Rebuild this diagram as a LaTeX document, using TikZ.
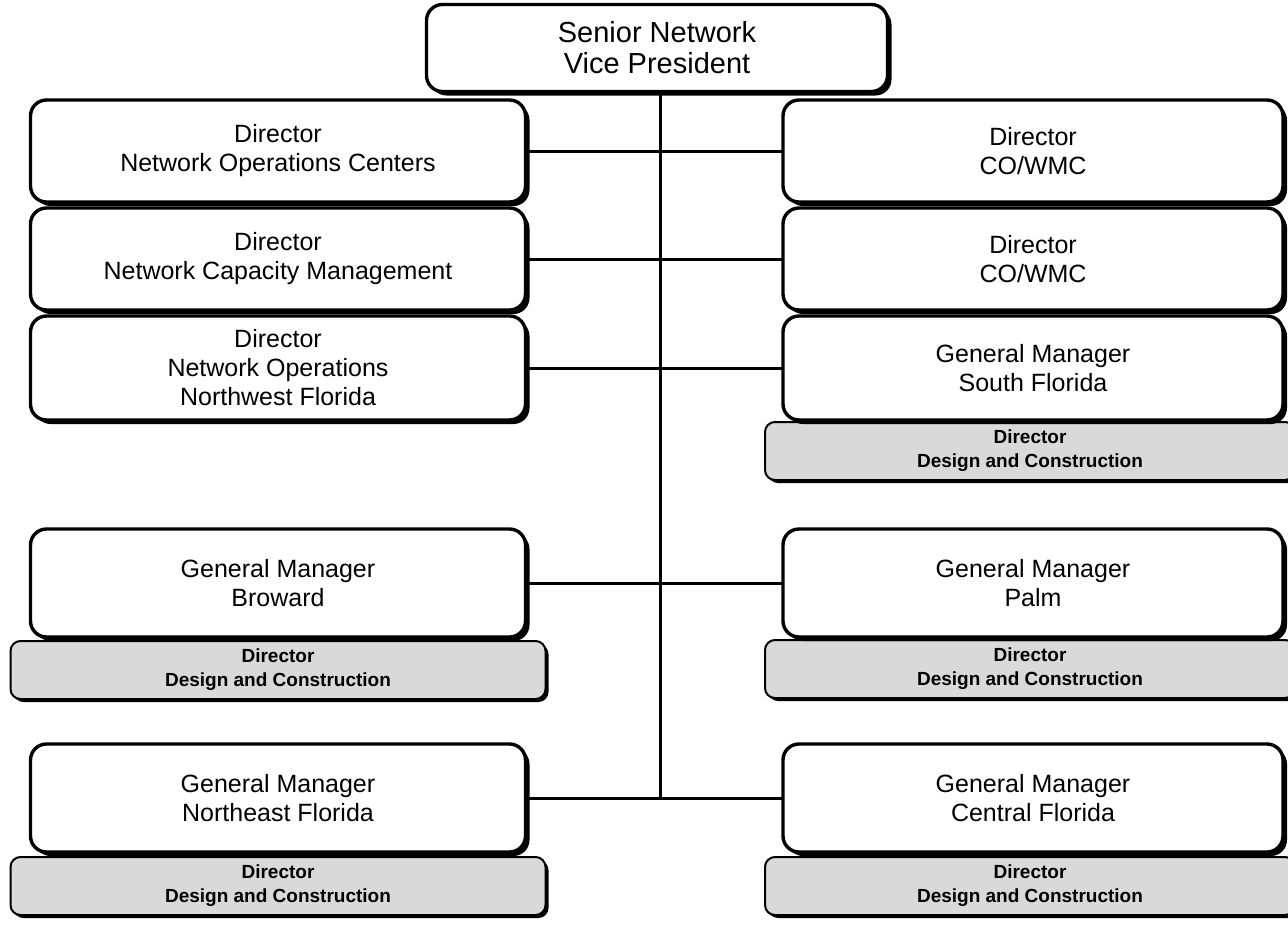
\documentclass[tikz,border=0pt]{standalone}
\usepackage{fontspec}
\setmainfont{Liberation Sans}
\usetikzlibrary{shadows}

\begin{document}
\begin{tikzpicture}[x=1pt,y=-1pt,line cap=round,line join=round]
\useasboundingbox[fill=white] (0,0) rectangle (1288,924);
\tikzset{orgbox/.style={draw=black,fill=white,line width=3.4pt,rounded corners=16pt,minimum width=495pt,minimum height=104pt,align=center,font=\fontsize{25}{29}\selectfont,drop shadow={shadow xshift=4pt,shadow yshift=-4pt,fill=black,opacity=1}},rightbox/.style={minimum width=500pt},subbox/.style={draw=black,fill=black!15,line width=2pt,rounded corners=10pt,minimum width=535pt,minimum height=58pt,align=center,font=\bfseries\fontsize{19}{24}\selectfont,drop shadow={shadow xshift=3pt,shadow yshift=-3pt,fill=black,opacity=1}},link/.style={draw=black,line width=3pt}}
% design and construction boxes
\node[subbox,minimum width=530pt] (dcSF) at (1030,451) {Director\\Design and Construction};
\node[subbox] (dcBR) at (278,670) {Director\\Design and Construction};
\node[subbox,minimum width=530pt] (dcPA) at (1030,669) {Director\\Design and Construction};
\node[subbox] (dcNE) at (278,886) {Director\\Design and Construction};
\node[subbox,minimum width=530pt] (dcCF) at (1030,886) {Director\\Design and Construction};
% managers
\node[orgbox,minimum width=461pt,minimum height=87pt,font=\fontsize{29}{31}\selectfont] (svp) at (657,48) {Senior Network\\Vice President};
\node[orgbox,minimum height=102pt] (noc) at (278,151) {Director\\Network Operations Centers};
\node[orgbox,minimum height=102pt] (ncm) at (278,259) {Director\\Network Capacity Management};
\node[orgbox] (nwf) at (278,368) {Director\\Network Operations\\Northwest Florida};
\node[orgbox,rightbox,minimum height=102pt] (cowmcA) at (1033,151) {Director\\CO/WMC};
\node[orgbox,rightbox,minimum height=102pt] (cowmcB) at (1033,259) {Director\\CO/WMC};
\node[orgbox,rightbox] (gmSF) at (1033,368) {General Manager\\South Florida};
\node[orgbox,minimum height=108pt] (gmBR) at (278,583) {General Manager\\Broward};
\node[orgbox,rightbox,minimum height=108pt] (gmPA) at (1033,583) {General Manager\\Palm};
\node[orgbox,minimum height=108pt] (gmNE) at (278,798) {General Manager\\Northeast Florida};
\node[orgbox,rightbox,minimum height=108pt] (gmCF) at (1033,798) {General Manager\\Central Florida};
% connectors
\coordinate (spine) at (660,798);
\draw[link] (svp.south -| spine) -- (spine);
\draw[link] (noc.east) -- (cowmcA.west);
\draw[link] (ncm.east) -- (cowmcB.west);
\draw[link] (nwf.east) -- (gmSF.west);
\draw[link] (gmBR.east) -- (gmPA.west);
\draw[link] (gmNE.east) -- (gmCF.west);
\end{tikzpicture}
\end{document}
